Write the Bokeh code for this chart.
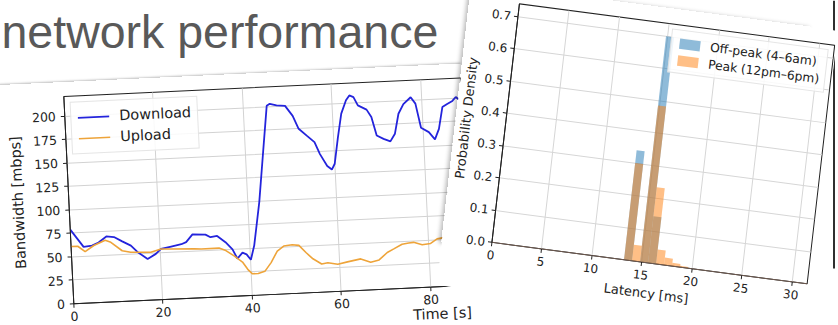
import numpy as np
from bokeh.plotting import figure
from bokeh.models import Range1d, FixedTicker, Label, Title, PrintfTickFormatter, BoxAnnotation
from bokeh.embed import file_html
from bokeh.resources import INLINE

# ---------------- data ----------------
slide_title = "network performance"

time_s = [0, 2.8, 4.7, 6.2, 8.0, 9.7, 11.5, 13.4, 14.8, 17.0, 18.9, 20.1, 22.4, 24.7, 25.8,
          27.3, 30.2, 31.3, 32.8, 34.6, 36.1, 37.1, 38.3, 39.2, 40.1, 41.0, 42.6, 44.0, 45.3,
          46.0, 47.5, 49.4, 51.0, 52.2, 54.0, 55.6, 56.7, 58.2, 59.2, 59.9, 60.9, 61.9, 63.1,
          63.9, 64.8, 65.7, 67.6, 68.6, 69.6, 71.1, 72.6, 73.7, 74.7, 75.9, 77.6, 78.6, 79.6,
          81.3, 82.6, 83.6, 84.6, 85.7, 86.9, 87.7, 88.4]
download_mbps = [79, 60, 61, 64, 70, 69, 64, 59, 52, 44, 49, 54, 56, 58, 60,
                 68, 67, 64, 65, 58, 50, 40, 46, 44, 38, 53, 99, 152, 201,
                 203, 201, 200, 189, 175, 167, 160, 147, 134, 130, 136, 164, 189, 203,
                 208, 206, 197, 192, 184, 164, 160, 157, 165, 186, 196, 203, 196, 170,
                 165, 157, 168, 191, 194, 197, 201, 198]

upload_time_s = [0, 1.5, 3.1, 5.1, 7.7, 8.8, 11.4, 13.3, 15.6, 17.8, 20.1, 22.4, 27.6, 29.1,
                 33.1, 34.6, 36.4, 38.2, 39.3, 40.3, 41.6, 43.1, 44.6, 46.1, 47.6, 49.5, 51.0,
                 52.5, 54.0, 55.9, 57.3, 59.5, 61.7, 64.7, 66.9, 68.8, 70.7, 72.2, 74.1, 75.6,
                 76.7, 78.6, 80.5, 82.0, 83.5]
upload_mbps = [61, 61, 55, 61, 66, 64, 54, 52, 51.5, 51, 54, 53.5, 52.5, 52,
               52, 49, 43, 36, 28, 23, 23, 25, 34, 46, 51, 52, 51,
               43, 36, 30, 31, 29, 31, 33.5, 29.5, 31.5, 39, 42.5, 47, 48,
               48.5, 45.5, 46.5, 51, 52]

bw_xticks = [0, 20, 40, 60, 80]
bw_yticks = [0, 25, 50, 75, 100, 125, 150, 175, 200]

bin_left_ms = [13.2, 14.0, 14.8, 15.6, 16.4, 17.2, 18.0, 18.8]
bin_right_ms = [14.0, 14.8, 15.6, 16.4, 17.2, 18.0, 18.8, 19.6]
offpeak_density = [0.34, 0.0, 0.70, 0.145, 0.0, 0.0, 0.0, 0.0]
peak_density = [0.30, 0.05, 0.485, 0.235, 0.045, 0.023, 0.010, 0.004]

lat_xticks = [0, 5, 10, 15, 20, 25, 30]
lat_yticks = [0.0, 0.1, 0.2, 0.3, 0.4, 0.5, 0.6, 0.7]

FONT = "DejaVu Sans"


def affine(fig_pts, scr_pts):
    """CSS matrix(a,b,c,d,e,f) mapping figure pixels to page pixels."""
    A, rhs = [], []
    for (x, y), (X, Y) in zip(fig_pts, scr_pts):
        A.append([x, y, 1, 0, 0, 0]); rhs.append(X)
        A.append([0, 0, 0, x, y, 1]); rhs.append(Y)
    a_, c_, e_, b_, d_, f_ = np.linalg.solve(np.array(A, float), np.array(rhs, float))
    return a_, b_, c_, d_, e_, f_


def place(p, canvas_w, canvas_h, m, shadow, z):
    """Bokeh sizes the canvas from the transformed bounding box, so give the host
    element the size whose bounding box equals the wanted canvas size."""
    a_, b_, c_, d_, e_, f_ = m
    W, H = np.linalg.solve(np.array([[abs(a_), abs(c_)], [abs(b_), abs(d_)]]),
                           np.array([canvas_w, canvas_h], float))
    p.width = int(round(W))
    p.height = int(round(H))
    p.styles = {
        "position": "absolute", "left": "0px", "top": "0px", "z-index": str(z),
        "transform-origin": "0px 0px",
        "transform": f"matrix({a_:.5f},{b_:.5f},{c_:.5f},{d_:.5f},{e_:.3f},{f_:.3f})",
        "box-shadow": shadow,
    }


def style_axes(p, tick_size, label_size, grid_color):
    for ax in (p.xaxis[0], p.yaxis[0]):
        ax.axis_line_color = "#222222"
        ax.major_tick_line_color = "#222222"
        ax.major_tick_out = 4
        ax.major_tick_in = 0
        ax.minor_tick_line_color = None
        ax.major_label_text_font = FONT
        ax.major_label_text_font_size = tick_size
        ax.major_label_text_color = "#222222"
        ax.axis_label_text_font = FONT
        ax.axis_label_text_font_size = label_size
        ax.axis_label_text_font_style = "normal"
        ax.axis_label_text_color = "#222222"
    p.xgrid.grid_line_color = grid_color
    p.ygrid.grid_line_color = grid_color
    p.outline_line_color = "#222222"
    p.outline_line_alpha = 1


# ---------------- background slide ----------------
bg = figure(width=838, height=325, x_range=Range1d(0, 838), y_range=Range1d(325, 0),
            output_backend="svg", toolbar_location=None, min_border=0, sizing_mode="fixed",
            x_axis_type=None, y_axis_type=None)
bg.grid.visible = False
bg.outline_line_color = None
bg.background_fill_color = "white"
bg.border_fill_color = "white"
bg.add_layout(Label(x=1, y=31, text=slide_title, text_font="Liberation Sans",
                    text_font_size="46.5px", text_color="#595959", text_baseline="alphabetic"))
bg.add_layout(BoxAnnotation(left=832.5, right=834.5, top=0, bottom=268,
                            fill_color="#2f2f2f", fill_alpha=1, line_alpha=0))
bg.styles = {"position": "absolute", "left": "0px", "top": "0px", "z-index": "1"}

# ---------------- left chart: bandwidth ----------------
L_LB, L_TB, L_FW, L_FH, L_RB, L_BB = 80, 14, 398, 208, 12, 58
pl = figure(width=L_LB + L_FW + L_RB, height=L_TB + L_FH + L_BB,
            x_range=Range1d(0, 89), y_range=Range1d(0, 221),
            output_backend="svg", toolbar_location=None, sizing_mode="fixed",
            min_border_left=L_LB, min_border_top=L_TB, min_border_right=L_RB, min_border_bottom=L_BB,
            background_fill_color="white", border_fill_color="white")
pl.line(time_s, download_mbps, color="#2424dc", line_width=1.8, legend_label="Download")
pl.line(upload_time_s, upload_mbps, color="#eea43a", line_width=1.6, legend_label="Upload")
pl.xaxis.ticker = FixedTicker(ticks=bw_xticks)
pl.yaxis.ticker = FixedTicker(ticks=bw_yticks)
pl.yaxis.axis_label = "Bandwidth [mbps]"
style_axes(pl, "12.5px", "14.5px", "#d2d2d2")
pl.yaxis.major_label_standoff = 5
pl.yaxis.axis_label_standoff = 7
pl.xaxis.major_label_standoff = 4
pl.add_layout(Title(text="Time [s]", align="right", text_font=FONT, text_font_size="14.5px",
                    text_font_style="normal", text_color="#222222", standoff=-6), "below")
lg = pl.legend[0]
lg.location = "top_left"
lg.margin = 6
lg.padding = 6
lg.spacing = 3
lg.glyph_width = 32
lg.glyph_height = 18
lg.label_height = 18
lg.label_standoff = 10
lg.label_text_font = FONT
lg.label_text_font_size = "14.5px"
lg.label_text_color = "#222222"
lg.border_line_color = "#cccccc"
lg.background_fill_alpha = 0.85
m_left = affine([(L_LB, L_TB + L_FH), (L_LB + L_FW, L_TB + L_FH), (L_LB, L_TB)],
                [(73.3, 303.3), (470.1, 284.8), (63.3, 96.0)])
place(pl, L_LB + L_FW + L_RB, L_TB + L_FH + L_BB, m_left, "0px -1px 2px rgba(0,0,0,0.22)", 2)

# ---------------- right chart: latency histogram ----------------
R_LB, R_TB, R_FW, R_FH, R_RB, R_BB = 48, 15, 320, 240, 2, 50
pr = figure(width=R_LB + R_FW + R_RB, height=R_TB + R_FH + R_BB,
            x_range=Range1d(0, 31.5), y_range=Range1d(0, 0.74),
            output_backend="svg", toolbar_location=None, sizing_mode="fixed",
            min_border_left=R_LB, min_border_top=R_TB, min_border_right=R_RB, min_border_bottom=R_BB,
            background_fill_color="white", border_fill_color="white")
pr.quad(left=bin_left_ms, right=bin_right_ms, bottom=0, top=offpeak_density,
        fill_color="#1f77b4", fill_alpha=0.5, line_color=None, legend_label="Off-peak (4–6am)")
pr.quad(left=bin_left_ms, right=bin_right_ms, bottom=0, top=peak_density,
        fill_color="#ff7f0e", fill_alpha=0.5, line_color=None, legend_label="Peak (12pm–6pm)")
pr.xaxis.ticker = FixedTicker(ticks=lat_xticks)
pr.yaxis.ticker = FixedTicker(ticks=lat_yticks)
pr.yaxis.formatter = PrintfTickFormatter(format="%.1f")
pr.xaxis.axis_label = "Latency [ms]"
pr.yaxis.axis_label = "Probability Density"
style_axes(pr, "12px", "13px", "#d6d6d6")
pr.xaxis.axis_line_color = "#6e5a50"
pr.yaxis.major_label_standoff = 3
pr.yaxis.axis_label_standoff = 3
pr.xaxis.major_label_standoff = 4
pr.xaxis.axis_label_standoff = 3
lr = pr.legend[0]
lr.location = "top_right"
lr.margin = 5
lr.padding = 5
lr.spacing = 2
lr.glyph_width = 26
lr.glyph_height = 13
lr.label_height = 15
lr.label_standoff = 8
lr.label_text_font = FONT
lr.label_text_font_size = "12.3px"
lr.label_text_color = "#222222"
lr.border_line_color = "#cccccc"
lr.background_fill_alpha = 0.85
m_right = affine([(R_LB, R_TB + R_FH), (R_LB + R_FW, R_TB + R_FH), (R_LB, R_TB)],
                 [(489.5, 241.5), (806.7, 283.3), (517.0, 3.0)])
place(pr, R_LB + R_FW + R_RB, R_TB + R_FH + R_BB, m_right, "-2px 1px 4px rgba(0,0,0,0.28)", 3)

p = [bg, pl, pr]
open("out.html", "w").write(file_html(p, INLINE))
